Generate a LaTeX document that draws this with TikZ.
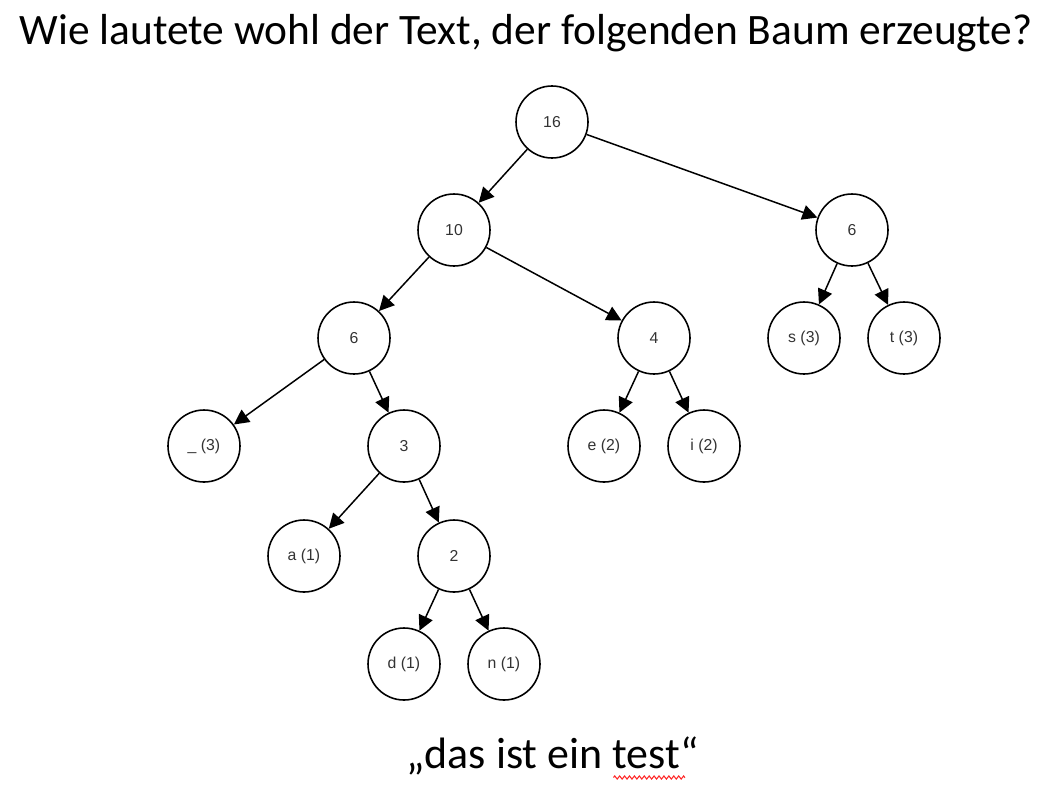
\documentclass[tikz,border=0pt]{standalone}
\usepackage{fontspec}
\setmainfont{Carlito}
\newfontfamily\knotfont{Liberation Sans}
\usetikzlibrary{arrows.meta,decorations.pathmorphing}
\begin{document}
\begin{tikzpicture}[
    knot/.style={draw, circle, line width=0.9pt, minimum size=1.44cm, inner sep=0pt,
                 font=\knotfont\fontsize{9}{10}\selectfont, text=black!80},
    ast/.style={-{Triangle[length=3mm,width=3mm]}, line width=0.85pt}
  ]
  \useasboundingbox (0,0) rectangle (21.28,-16.16);

  % Frage oben
  \node[anchor=base, font=\fontsize{24.7}{28}\selectfont] (frage) at (10.52,-0.88)
    {Wie lautete wohl der Text, der folgenden Baum erzeugte?};

  % Knoten des Baums
  \node[knot] (w16) at (11.04,-2.44)  {16};
  \node[knot] (w10) at (9.08,-4.60)   {10};
  \node[knot] (w6r) at (17.04,-4.60)  {6};
  \node[knot] (w6l) at (7.08,-6.76)   {6};
  \node[knot] (w4)  at (13.08,-6.76)  {4};
  \node[knot] (ks)  at (16.08,-6.76)  {s (3)};
  \node[knot] (kt)  at (18.08,-6.76)  {t (3)};
  \node[knot] (kl)  at (4.08,-8.92)   {\_ (3)};
  \node[knot] (w3)  at (8.08,-8.92)   {3};
  \node[knot] (ke)  at (12.08,-8.92)  {e (2)};
  \node[knot] (ki)  at (14.08,-8.92)  {i (2)};
  \node[knot] (ka)  at (6.08,-11.12)  {a (1)};
  \node[knot] (w2)  at (9.08,-11.12)  {2};
  \node[knot] (kd)  at (8.08,-13.28)  {d (1)};
  \node[knot] (kn)  at (10.08,-13.28) {n (1)};

  % Kanten: Eltern -> Kind
  \foreach \von/\nach in {w16/w10, w16/w6r, w10/w6l, w10/w4, w6r/ks, w6r/kt,
                          w6l/kl, w6l/w3, w4/ke, w4/ki, w3/ka, w3/w2, w2/kd, w2/kn} {
      \draw[ast] (\von) -- (\nach);
  }

  % Antwort unten
  \node[anchor=base, font=\fontsize{25}{28}\selectfont] (antwort) at (11.05,-15.36)
    {„das ist ein test“};
  \draw[red!85, line width=0.6pt, decorate,
        decoration={zigzag, amplitude=0.9pt, segment length=2.8pt}]
    (12.27,-15.55) -- (13.70,-15.55);
\end{tikzpicture}
\end{document}
